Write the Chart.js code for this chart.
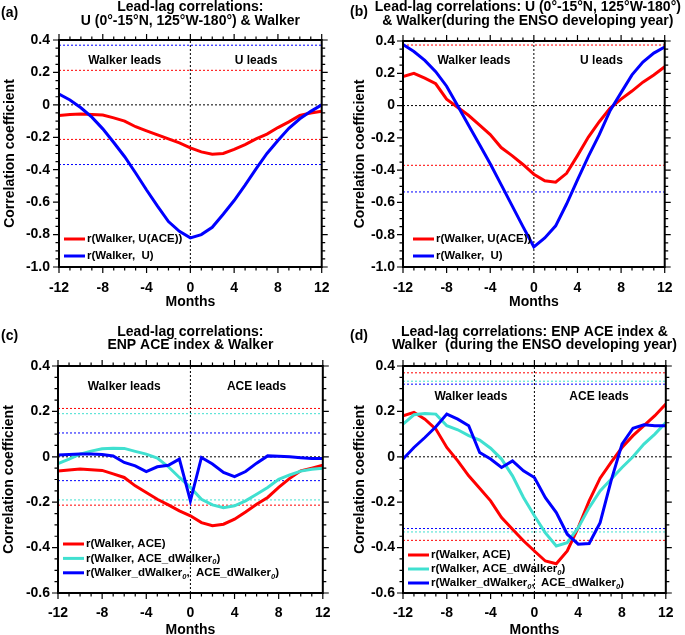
<!DOCTYPE html>
<html lang="en">
<head>
<meta charset="UTF-8">
<title>Lead-lag correlations</title>
<script src="https://cdn.jsdelivr.net/npm/chart.js"></script>
<style>
  html, body { margin: 0; padding: 0; background: #fff; overflow: hidden; }
  .painel { position: absolute; }
</style>
</head>
<body>
<canvas id="painelA" class="painel" width="342" height="315" style="left:0;top:0"></canvas>
<canvas id="painelB" class="painel" width="343" height="315" style="left:342px;top:0"></canvas>
<canvas id="painelC" class="painel" width="342" height="330" style="left:0;top:315px"></canvas>
<canvas id="painelD" class="painel" width="343" height="330" style="left:342px;top:315px"></canvas>

<script>
// lag em meses (-12 .. 12)
const meses = [-12, -11, -10, -9, -8, -7, -6, -5, -4, -3, -2, -1, 0, 1, 2, 3, 4, 5, 6, 7, 8, 9, 10, 11, 12];

// (a) U (0-15N, 125W-180) & Walker
const aWalkerUace = [-0.065, -0.06, -0.057, -0.06, -0.063, -0.08, -0.1, -0.135, -0.16, -0.185, -0.21, -0.235, -0.265, -0.29, -0.305, -0.3, -0.275, -0.245, -0.21, -0.18, -0.14, -0.105, -0.065, -0.05, -0.04];
const aWalkerU = [0.066, 0.03, -0.018, -0.076, -0.148, -0.232, -0.32, -0.42, -0.525, -0.625, -0.72, -0.78, -0.82, -0.8, -0.755, -0.675, -0.59, -0.495, -0.395, -0.3, -0.22, -0.145, -0.086, -0.04, 0];
const aLimVermelho = [0.213, -0.213];
const aLimAzul = [0.368, -0.368];

// (b) idem, durante o ano de desenvolvimento do ENSO
const bWalkerUace = [0.18, 0.2, 0.17, 0.135, 0.04, -0.01, -0.06, -0.12, -0.18, -0.26, -0.31, -0.365, -0.425, -0.466, -0.475, -0.42, -0.31, -0.195, -0.1, -0.015, 0.04, 0.09, 0.145, 0.19, 0.24];
const bWalkerU = [0.378, 0.335, 0.28, 0.21, 0.12, 0.0, -0.12, -0.24, -0.36, -0.49, -0.62, -0.75, -0.875, -0.82, -0.745, -0.61, -0.46, -0.315, -0.18, -0.03, 0.08, 0.19, 0.27, 0.325, 0.363];
const bLimVermelho = [0.375, -0.37];
const bLimAzul = [-0.535];

// (c) ENP ACE index & Walker
const cWalkerAce = [-0.063, -0.058, -0.054, -0.057, -0.06, -0.075, -0.091, -0.128, -0.157, -0.187, -0.212, -0.238, -0.26, -0.29, -0.304, -0.297, -0.275, -0.243, -0.209, -0.179, -0.135, -0.095, -0.062, -0.05, -0.037];
const cWalkerAceD = [-0.03, -0.01, 0.012, 0.025, 0.035, 0.038, 0.037, 0.024, 0.012, -0.006, -0.044, -0.091, -0.135, -0.187, -0.212, -0.224, -0.216, -0.194, -0.165, -0.135, -0.099, -0.08, -0.063, -0.055, -0.05];
const cWalkerDAceD = [0.008, 0.01, 0.012, 0.012, 0.01, 0.004, -0.025, -0.04, -0.065, -0.044, -0.037, -0.01, -0.194, -0.003, -0.032, -0.069, -0.087, -0.065, -0.028, 0.004, 0.002, 0, -0.004, -0.008, -0.008];
const cLimVermelho = [0.213, -0.213];
const cLimCiano = [0.19, -0.19];
const cLimAzul = [0.105, -0.105];

// (d) idem, durante o ano de desenvolvimento do ENSO
const dWalkerAce = [0.18, 0.196, 0.166, 0.122, 0.041, -0.018, -0.084, -0.138, -0.194, -0.268, -0.319, -0.37, -0.415, -0.459, -0.471, -0.415, -0.312, -0.194, -0.094, -0.025, 0.041, 0.093, 0.137, 0.181, 0.232];
const dWalkerAceD = [0.144, 0.185, 0.191, 0.188, 0.137, 0.119, 0.093, 0.074, 0.038, -0.01, -0.084, -0.179, -0.26, -0.335, -0.393, -0.378, -0.312, -0.224, -0.15, -0.099, -0.047, 0, 0.056, 0.1, 0.151];
const dWalkerDAceD = [-0.01, 0.041, 0.085, 0.132, 0.188, 0.166, 0.137, 0.019, -0.01, -0.047, -0.018, -0.062, -0.091, -0.18, -0.246, -0.341, -0.385, -0.382, -0.29, -0.106, 0.056, 0.126, 0.141, 0.137, 0.137];
const dLimVermelho = [0.37, -0.368];
const dLimCiano = [0.333, -0.331];
const dLimAzul = [0.32, -0.316];

const VERMELHO = '#ff0000';
const AZUL = '#0000ff';
const CIANO = '#40e0d0';
const FAMILIA = '"Liberation Sans", Arial, Helvetica, sans-serif';

Chart.defaults.font.family = FAMILIA;
Chart.defaults.color = '#000';

function fonte(tam, extra) {
    return (extra || '') + 'bold ' + tam + 'px ' + FAMILIA;
}

function serie(valores, cor) {
    return {
        data: meses.map((m, i) => ({ x: m, y: valores[i] })),
        borderColor: cor,
        borderWidth: 3,
        pointRadius: 0,
        tension: 0
    };
}

function linhaLimite(v, cor) {
    return {
        data: [{ x: meses[0], y: v }, { x: meses[meses.length - 1], y: v }],
        borderColor: cor,
        borderWidth: 1,
        borderDash: [2, 2],
        pointRadius: 0
    };
}

// ticks, moldura, títulos, legenda e anotações
function criarDecoracoes(cfg) {
    return {
        id: 'decoracoes',
        afterDraw(chart) {
            const ctx = chart.ctx;
            const a = chart.chartArea;
            const sx = chart.scales.x;
            const sy = chart.scales.y;
            ctx.save();

            ctx.strokeStyle = '#000';
            ctx.lineWidth = 1.2;
            ctx.beginPath();
            for (let m = sx.min; m <= sx.max; m++) {
                const px = sx.getPixelForValue(m);
                const t = m % 4 === 0 ? 6 : 3.5;
                ctx.moveTo(px, a.bottom); ctx.lineTo(px, a.bottom + t);
                ctx.moveTo(px, a.top); ctx.lineTo(px, a.top - t);
            }
            const nY = Math.round((sy.max - sy.min) / 0.05);
            for (let k = 0; k <= nY; k++) {
                const py = sy.getPixelForValue(sy.min + k * 0.05);
                const t = k % 4 === 0 ? 6 : 3.5;
                ctx.moveTo(a.left, py); ctx.lineTo(a.left - t, py);
                ctx.moveTo(a.right, py); ctx.lineTo(a.right + t, py);
            }
            ctx.stroke();
            ctx.lineWidth = 2;
            ctx.strokeRect(a.left, a.top, a.right - a.left, a.bottom - a.top);

            ctx.fillStyle = '#000';
            ctx.font = fonte(14);
            ctx.textBaseline = 'middle';
            ctx.textAlign = 'center';
            const cx = (a.left + a.right) / 2 + cfg.desvioTitulo;
            cfg.titulo.forEach((linha, i) => ctx.fillText(linha, cx, cfg.yTitulo[i]));
            ctx.textAlign = 'left';
            ctx.fillText(cfg.rotulo[0], cfg.rotulo[1], cfg.rotulo[2]);

            ctx.font = fonte(12);
            ctx.textAlign = 'center';
            cfg.notas.forEach(n => ctx.fillText(n[0], sx.getPixelForValue(n[1]), sy.getPixelForValue(n[2])));

            ctx.textAlign = 'left';
            cfg.legenda.forEach((item, i) => {
                const y = cfg.legY + i * cfg.legPasso;
                ctx.strokeStyle = item.cor;
                ctx.lineWidth = 3;
                ctx.beginPath();
                ctx.moveTo(cfg.legX, y);
                ctx.lineTo(cfg.legX + 21, y);
                ctx.stroke();
                let x = cfg.legX + 23;
                item.partes.forEach(p => {
                    if (Array.isArray(p)) {
                        ctx.font = fonte(7.5, 'italic ');
                        ctx.fillText(p[0], x, y + 4);
                        x += ctx.measureText(p[0]).width;
                    } else {
                        ctx.font = fonte(11.5);
                        ctx.fillText(p, x, y);
                        x += ctx.measureText(p).width;
                    }
                });
            });
            ctx.restore();
        }
    };
}

function criarPainel(id, cfg) {
    const ymin = cfg.eixoY[0], ymax = cfg.eixoY[1];
    const conjuntos = cfg.series.map(s => serie(s[0], s[1]));
    cfg.limites.forEach(l => l[0].forEach(v => conjuntos.push(linhaLimite(v, l[1]))));
    conjuntos.push(linhaLimite(0, '#000'));
    conjuntos.push({
        data: [{ x: 0, y: ymin }, { x: 0, y: ymax }],
        borderColor: '#000', borderWidth: 1, borderDash: [2, 2], pointRadius: 0
    });

    return new Chart(document.getElementById(id), {
        type: 'line',
        data: { datasets: conjuntos },
        options: {
            responsive: false,
            animation: false,
            devicePixelRatio: 1,
            events: [],
            layout: { padding: { left: 0, top: cfg.topo, right: cfg.direita, bottom: 0 } },
            plugins: { legend: { display: false }, tooltip: { enabled: false } },
            scales: {
                x: {
                    type: 'linear',
                    min: meses[0],
                    max: meses[meses.length - 1],
                    grid: { display: false, drawTicks: false },
                    border: { display: false },
                    ticks: { stepSize: 4, autoSkip: false, maxRotation: 0, padding: cfg.padX, font: { size: 14, weight: 'bold' } },
                    title: { display: true, text: 'Months', font: { size: 14, weight: 'bold' }, padding: { top: 0, bottom: cfg.padMeses } },
                    afterFit: (s) => { s.height = cfg.altX; }
                },
                y: {
                    type: 'linear',
                    min: ymin,
                    max: ymax,
                    grid: { display: false, drawTicks: false },
                    border: { display: false },
                    ticks: {
                        stepSize: 0.2, autoSkip: false, padding: cfg.padY, font: { size: 14, weight: 'bold' },
                        callback: (v) => Math.abs(v) < 1e-9 ? '0' : v.toFixed(1)
                    },
                    title: { display: true, text: 'Correlation coefficient', font: { size: 14, weight: 'bold' }, padding: { top: cfg.padTituloY, bottom: 0 } },
                    afterFit: (s) => { s.width = cfg.largY; }
                }
            }
        },
        plugins: [criarDecoracoes(cfg)]
    });
}

criarPainel('painelA', {
    eixoY: [-1, 0.4],
    series: [[aWalkerU, AZUL], [aWalkerUace, VERMELHO]],
    limites: [[aLimAzul, AZUL], [aLimVermelho, VERMELHO]],
    topo: 40, direita: 15, largY: 59, altX: 48,
    padX: 12.5, padMeses: 4.6, padY: 9, padTituloY: 2,
    titulo: ['Lead-lag correlations:', 'U (0°-15°N, 125°W-180°) & Walker'],
    yTitulo: [7, 21], desvioTitulo: 0,
    rotulo: ['(a)', 1, 13],
    notas: [['Walker leads', -6, 0.27], ['U leads', 6, 0.27]],
    legX: 64, legY: 239, legPasso: 17,
    legenda: [
        { cor: VERMELHO, partes: ['r(Walker, U(ACE))'] },
        { cor: AZUL, partes: ['r(Walker,  U)'] }
    ]
});

criarPainel('painelB', {
    eixoY: [-1, 0.4],
    series: [[bWalkerU, AZUL], [bWalkerUace, VERMELHO]],
    limites: [[bLimAzul, AZUL], [bLimVermelho, VERMELHO]],
    topo: 41, direita: 11, largY: 61, altX: 48,
    padX: 12.5, padMeses: 4.6, padY: 8, padTituloY: 9.6,
    titulo: ['Lead-lag correlations: U (0°-15°N, 125°W-180°)', '& Walker(during the ENSO developing year)'],
    yTitulo: [7, 21], desvioTitulo: -6,
    rotulo: ['(b)', 8, 12.5],
    notas: [['Walker leads', -5.5, 0.28], ['U leads', 6.2, 0.28]],
    legX: 71, legY: 239, legPasso: 17,
    legenda: [
        { cor: VERMELHO, partes: ['r(Walker, U(ACE))'] },
        { cor: AZUL, partes: ['r(Walker,  U)'] }
    ]
});

criarPainel('painelC', {
    eixoY: [-0.6, 0.4],
    series: [[cWalkerDAceD, AZUL], [cWalkerAceD, CIANO], [cWalkerAce, VERMELHO]],
    limites: [[cLimAzul, AZUL], [cLimCiano, CIANO], [cLimVermelho, VERMELHO]],
    topo: 51, direita: 15, largY: 58, altX: 52,
    padX: 11.4, padMeses: 6.6, padY: 8, padTituloY: 0.6,
    titulo: ['Lead-lag correlations:', 'ENP ACE index & Walker'],
    yTitulo: [17, 30], desvioTitulo: 0,
    rotulo: ['(c)', 1, 21],
    notas: [['Walker leads', -6, 0.31], ['ACE leads', 6, 0.31]],
    legX: 63, legY: 229, legPasso: 14.4,
    legenda: [
        { cor: VERMELHO, partes: ['r(Walker, ACE)'] },
        { cor: CIANO, partes: ['r(Walker, ACE_dWalker', ['0'], ')'] },
        { cor: AZUL, partes: ['r(Walker_dWalker', ['0'], ',  ACE_dWalker', ['0'], ')'] }
    ]
});

criarPainel('painelD', {
    eixoY: [-0.6, 0.4],
    series: [[dWalkerDAceD, AZUL], [dWalkerAceD, CIANO], [dWalkerAce, VERMELHO]],
    limites: [[dLimAzul, AZUL], [dLimCiano, CIANO], [dLimVermelho, VERMELHO]],
    topo: 51, direita: 13, largY: 61, altX: 52,
    padX: 11.4, padMeses: 6.6, padY: 8, padTituloY: 9.6,
    titulo: ['Lead-lag correlations: ENP ACE index &', 'Walker  (during the ENSO developing year)'],
    yTitulo: [17, 30], desvioTitulo: 0,
    rotulo: ['(d)', 8, 21.5],
    notas: [['Walker leads', -5.8, 0.265], ['ACE leads', 5.9, 0.265]],
    legX: 66, legY: 240, legPasso: 14,
    legenda: [
        { cor: VERMELHO, partes: ['r(Walker, ACE)'] },
        { cor: CIANO, partes: ['r(Walker, ACE_dWalker', ['0'], ')'] },
        { cor: AZUL, partes: ['r(Walker_dWalker', ['0'], ',  ACE_dWalker', ['0'], ')'] }
    ]
});
</script>
</body>
</html>
